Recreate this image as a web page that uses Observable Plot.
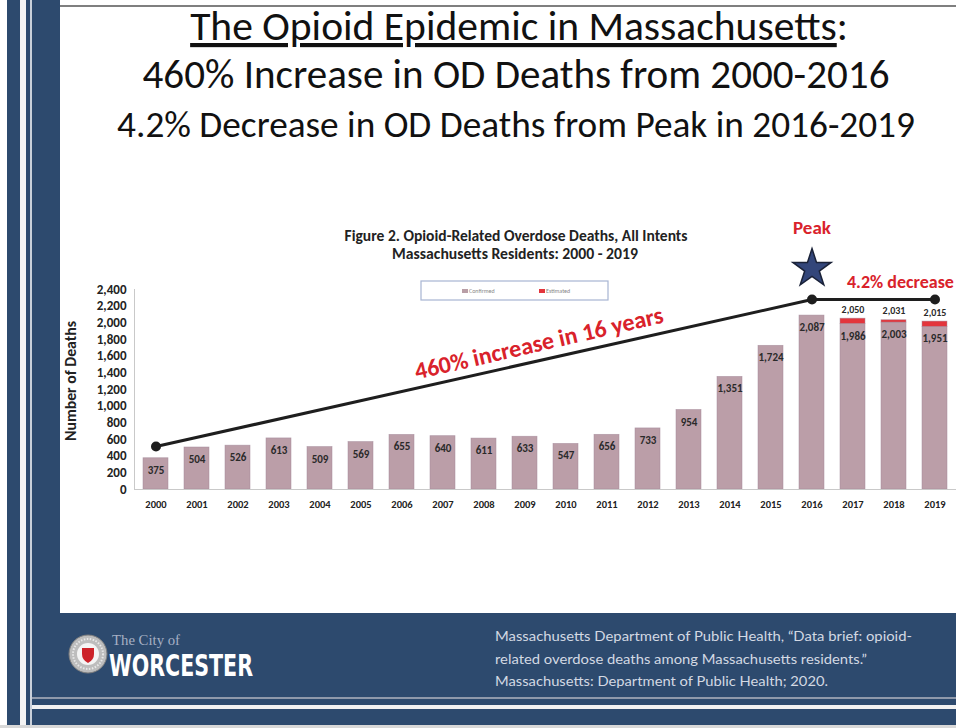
<!DOCTYPE html>
<html><head><meta charset="utf-8">
<script src="https://cdn.jsdelivr.net/npm/d3@7"></script>
<script src="https://cdn.jsdelivr.net/npm/@observablehq/plot@0.6"></script>
<style>
html,body{margin:0;padding:0;background:#fff;}
body{width:956px;height:728px;overflow:hidden;position:relative;}
#deco{position:absolute;left:0;top:0;}
#chart{position:absolute;left:0;top:210px;}
</style></head><body>
<svg id="deco" width="956" height="728"></svg>
<div id="chart"></div>
<script>
// ---- data ----
const years = ["2000","2001","2002","2003","2004","2005","2006","2007","2008","2009","2010","2011","2012","2013","2014","2015","2016","2017","2018","2019"];
const confirmed = [375,504,526,613,509,569,655,640,611,633,547,656,733,954,1351,1724,2087,1986,2003,1951];
const estimated = [0,0,0,0,0,0,0,0,0,0,0,0,0,0,0,0,0,64,28,64];
const yTicks = [0,200,400,600,800,1000,1200,1400,1600,1800,2000,2200,2400];
const trendYears = ["2000","2016","2019"];
const trendValues = [515,2280,2280];
const starYears = ["2016"];
const starValues = [2650];
const noteTexts = ["Peak","4.2% decrease","460% increase in 16 years"];
const noteYears = ["2016","2016","2009"];
const noteValues = [3140,2485,1752];
const titleLines = ["The Opioid Epidemic in Massachusetts","460% Increase in OD Deaths from 2000-2016","4.2% Decrease in OD Deaths from Peak in 2016-2019"];
const chartTitle = ["Figure 2. Opioid-Related Overdose Deaths, All Intents","Massachusetts Residents: 2000 - 2019"];
const yLabel = "Number of Deaths";
const seriesNames = ["Confirmed","Estimated"];
const sourceLines = ["Massachusetts Department of Public Health, \u201cData brief: opioid-","related overdose deaths among Massachusetts residents.\u201d","Massachusetts: Department of Public Health; 2020."];

const NAVY = "#2d4a6e", RED = "#d9222b";

// ---- decoration (slide frame, titles, footer) ----
const deco = d3.select("#deco");
deco.append("rect").attr("width",956).attr("height",728).attr("fill","#fff");
deco.append("rect").attr("x",7).attr("y",0).attr("width",53).attr("height",728).attr("fill",NAVY);
deco.append("rect").attr("x",32).attr("y",613).attr("width",924).attr("height",112).attr("fill",NAVY);
deco.append("rect").attr("x",20).attr("y",0).attr("width",6).attr("height",728).attr("fill","#f4f4f4");
deco.append("rect").attr("x",30).attr("y",0).attr("width",2).attr("height",728).attr("fill","#c9d0da");
deco.append("rect").attr("x",32).attr("y",697).attr("width",924).attr("height",2).attr("fill","#8f99ab");
deco.append("rect").attr("x",32).attr("y",705).attr("width",924).attr("height",4).attr("fill","#f2f2f2");
deco.append("rect").attr("x",0).attr("y",725).attr("width",956).attr("height",3).attr("fill","#d8d8d8");
deco.append("line").attr("x1",60).attr("x2",956).attr("y1",6).attr("y2",6).attr("stroke","#555").attr("stroke-width",1.5);

function fit(sel, target){
  const len = sel.node().getComputedTextLength();
  const fs = parseFloat(sel.attr("font-size"));
  sel.attr("font-size", fs*target/len);
}
const TF = "Carlito, Calibri, Lato, sans-serif";
const t1 = deco.append("text").attr("x",519).attr("y",40).attr("text-anchor","middle")
  .attr("font-family",TF).attr("font-size",34).attr("fill","#111");
t1.append("tspan").style("text-decoration","underline").text(titleLines[0]);
t1.append("tspan").text(":");
fit(t1,658);
const t2 = deco.append("text").attr("x",516).attr("y",88).attr("text-anchor","middle")
  .attr("font-family",TF).attr("font-size",32).attr("fill","#111").text(titleLines[1]);
fit(t2,747);
const t3 = deco.append("text").attr("x",516).attr("y",137).attr("text-anchor","middle")
  .attr("font-family",TF).attr("font-size",30).attr("fill","#111").text(titleLines[2]);
fit(t3,798);

// chart title
const c1 = deco.append("text").attr("x",516).attr("y",241).attr("text-anchor","middle")
  .attr("font-family",TF).attr("font-weight","bold").attr("font-size",10).attr("fill","#222").text(chartTitle[0]);
fit(c1,343);
const c2 = deco.append("text").attr("x",515).attr("y",259).attr("text-anchor","middle")
  .attr("font-family",TF).attr("font-weight","bold").attr("font-size",10).attr("fill","#222").text(chartTitle[1]);
fit(c2,246);

// y axis title
const yl = deco.append("text").attr("transform","translate(76,381) rotate(-90)").attr("text-anchor","middle")
  .attr("font-family",TF).attr("font-weight","bold").attr("font-size",12).attr("fill","#222").text(yLabel);
fit(yl,120);

// legend box
deco.append("rect").attr("x",421).attr("y",281).attr("width",187).attr("height",19)
  .attr("fill","#fff").attr("stroke","#a7b5d3").attr("stroke-width",1.2);
const legX = [462,539], legC = ["#b99ea6","#e3353c"];
seriesNames.forEach((s,i)=>{
  deco.append("rect").attr("x",legX[i]).attr("y",289).attr("width",6).attr("height",4).attr("fill",legC[i]);
  deco.append("text").attr("x",legX[i]+7).attr("y",293).attr("font-family",TF).attr("font-size",6)
    .attr("fill","#888").text(s);
});

// footer logo
const lg = deco.append("g").attr("transform","translate(88,654)");
lg.append("circle").attr("r",19).attr("fill","#bdbdbd").attr("stroke","#7d7d7d").attr("stroke-width",1);
lg.append("circle").attr("r",15).attr("fill","none").attr("stroke","#e8e8e8").attr("stroke-width",2).attr("stroke-dasharray","1.5 1.5");
lg.append("circle").attr("r",11).attr("fill","#f4f4f4");
lg.append("path").attr("d","M-6,-6 L6,-6 L6,0 Q6,6 0,9 Q-6,6 -6,0 Z").attr("fill","#cc2229");
deco.append("text").attr("x",112).attr("y",645).attr("font-family","Liberation Serif, serif")
  .attr("font-size",14).attr("fill","#a6b0c4").attr("textLength",68).attr("lengthAdjust","spacingAndGlyphs").text("The City of");
deco.append("text").attr("x",109).attr("y",676).attr("font-family","'DejaVu Sans Condensed', 'Liberation Sans Narrow', sans-serif")
  .attr("font-weight","bold").attr("font-size",31).attr("fill","#fff")
  .attr("textLength",144).attr("lengthAdjust","spacingAndGlyphs").text("WORCESTER");
const srcW = [417,372,333], srcY = [641,664,686];
sourceLines.forEach((s,i)=>{
  deco.append("text").attr("x",495).attr("y",srcY[i]).attr("font-family","'Liberation Sans Narrow', Lato, sans-serif")
    .attr("font-size",13).attr("fill","#d3d9e3").attr("textLength",srcW[i]).attr("lengthAdjust","spacingAndGlyphs").text(s);
});

// ---- chart ----
const long = years.flatMap((y,i)=>[
  {year:y, type:seriesNames[0], value:confirmed[i]},
  {year:y, type:seriesNames[1], value:estimated[i]}
]);
const rows = years.map((y,i)=>({year:y, c:confirmed[i], e:estimated[i], t:confirmed[i]+estimated[i]}));
const trend = trendYears.map((y,i)=>({year:y, v:trendValues[i]}));
const stars = starYears.map((y,i)=>({year:y, v:starValues[i]}));
const notes = noteTexts.map((t,i)=>({text:t, year:noteYears[i], v:noteValues[i]}));
const fmt = d3.format(",");

const plot = Plot.plot({
  width:956, height:310,
  marginLeft:134, marginRight:0, marginTop:79, marginBottom:31,
  style:{background:"transparent", fontFamily:"Carlito, Lato, 'Open Sans', sans-serif", fontSize:"10px", overflow:"visible", color:"#222"},
  x:{type:"band", domain:years, paddingInner:0.4, paddingOuter:0.2, label:null},
  y:{domain:[0,2400], label:null},
  color:{domain:seriesNames, range:["#bb9ea8","#e3353c"]},
  marks:[
    Plot.barY(long,{x:"year", y:"value", fill:"type", stroke:"#a4899a", strokeWidth:0.7, strokeOpacity:0.7, order:seriesNames}),
    Plot.ruleY([0],{stroke:"#c9c9c9"}),
    Plot.frame({anchor:"left", stroke:"#c9c9c9"}),
    Plot.axisY({ticks:yTicks, tickSize:0, tickPadding:8, tickFormat:fmt, fontWeight:"bold", fontSize:13, label:null}),
    Plot.axisX({tickSize:0, tickPadding:11, fontWeight:"bold", fontSize:10.5, label:null}),
    Plot.text(rows,{x:"year", y:"c", text:d=>fmt(d.c), dy:12, fontWeight:"bold", fill:"#2a2a2a", fontSize:11}),
    Plot.text(rows.filter(d=>d.e>0),{x:"year", y:"t", text:d=>fmt(d.t), dy:-9, fontWeight:"bold", fill:"#2a2a2a", fontSize:10}),
    Plot.line(trend,{x:"year", y:"v", stroke:"#1e1e1e", strokeWidth:3}),
    Plot.dot(trend,{x:"year", y:"v", r:5, fill:"#1e1e1e"}),
    Plot.dot(stars,{x:"year", y:"v", symbol:"star", r:12, fill:"#33467a", stroke:"#1a2238", strokeWidth:1.5}),
    Plot.text(notes.slice(0,1),{x:"year", y:"v", text:"text", fill:RED, fontWeight:"bold", fontSize:19}),
    Plot.text(notes.slice(1,2),{x:"year", y:"v", text:"text", fill:RED, fontWeight:"bold", fontSize:18, textAnchor:"start", dx:35}),
    Plot.text(notes.slice(2,3),{x:"year", y:"v", text:"text", fill:RED, fontWeight:"bold", fontSize:24, rotate:-13, dx:14})
  ]
});
document.getElementById("chart").appendChild(plot);
</script>
</body></html>
